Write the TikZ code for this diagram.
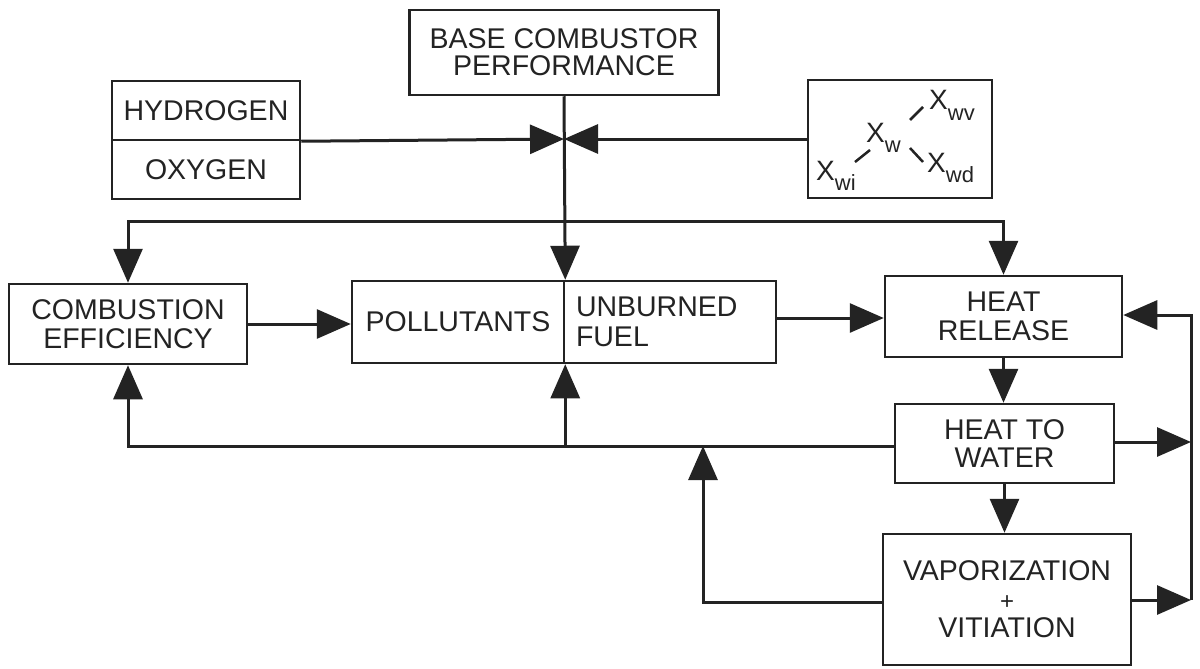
\documentclass[tikz,border=0pt]{standalone}
\usepackage{fontspec}
\setmainfont{Liberation Sans}
\usetikzlibrary{arrows.meta}
\definecolor{ink}{RGB}{35,35,35}
\newcommand{\Xs}[1]{{\fontsize{28}{28}\selectfont X}\raisebox{-10pt}{\fontsize{22}{22}\selectfont #1}}
\begin{document}
\begin{tikzpicture}[x=1pt,y=-1pt,
  box/.style={draw=ink, line width=2.5pt, inner sep=0pt, align=center,
    font=\fontsize{28.5}{28.5}\selectfont, text=ink},
  conn/.style={draw=ink, line width=3pt},
  xlab/.style={anchor=base west, inner sep=0pt, text=ink},
  dashln/.style={draw=ink, line width=2.5pt},
  tri/.tip={Triangle[length=34pt,width=29pt]}]
\useasboundingbox (0,0) rectangle (1200,669);
\fill[white] (0,0) rectangle (1200,669);

% boxes
\node[box, minimum width=309pt, minimum height=85pt, font=\fontsize{28.5}{27}\selectfont] (bcp) at (564,52.5) {BASE COMBUSTOR\\PERFORMANCE};
\node[box, minimum width=188pt, minimum height=59pt] (hyd) at (206,110.5) {HYDROGEN};
\node[box, minimum width=188pt, minimum height=59pt] (oxy) at (206,169.5) {OXYGEN};
\node[box, minimum width=184pt, minimum height=118pt] (xbox) at (900,139) {};
\node[box, minimum width=238pt, minimum height=80pt, font=\fontsize{28.5}{29}\selectfont] (ce) at (128,324) {COMBUSTION\\EFFICIENCY};
\node[box, minimum width=212pt, minimum height=82pt] (pol) at (458,322) {POLLUTANTS};
\node[box, minimum width=212pt, minimum height=82pt, text width=188pt, align=left, inner xsep=12pt, font=\fontsize{28.5}{30}\selectfont] (unb) at (670,322) {UNBURNED\\FUEL};
\node[box, minimum width=237pt, minimum height=81pt] (hr) at (1003.5,316.5) {HEAT\\RELEASE};
\node[box, minimum width=219pt, minimum height=79pt] (htw) at (1004.5,443.5) {HEAT TO\\WATER};
\node[box, minimum width=248pt, minimum height=131pt] (vap) at (1007,599.5) {VAPORIZATION\\{\fontsize{24}{24}\selectfont +}\\VITIATION};

% X labels
\node[xlab] (xw) at (866,142) {\Xs{w}};
\node[xlab] (xwv) at (929,110) {\Xs{wv}};
\node[xlab] (xwd) at (927,172) {\Xs{wd}};
\node[xlab] (xwi) at (816,180) {\Xs{wi}};
\draw[dashln] (855,162) -- (870,150);
\draw[dashln] (910,120) -- (923,107);
\draw[dashln] (910,148) -- (923,162);

% connectors
\coordinate (jn) at (564,139);
\draw[conn,-tri] (hyd.south east) -- (jn);
\draw[conn,-tri] (xbox.west) -- (jn);
\draw[conn,-tri] (bcp.south) -- (pol.north east);

\coordinate (bus) at (0,221);
\draw[conn,tri-tri] (ce.north) -- (ce.north |- bus) -- (hr.north |- bus) -- (hr.north);

\draw[conn,-tri] (ce.east) -- (ce.east -| pol.west);
\coordinate (a2) at (0,318);
\draw[conn,-tri] (unb.east |- a2) -- (hr.west |- a2);
\draw[conn,-tri] (hr.south) -- (hr.south |- htw.north);
\draw[conn,-tri] (htw.south) -- (htw.south |- vap.north);

\coordinate (fb) at (0,446);
\draw[conn,-tri] (htw.west |- fb) -- (ce.south |- fb) -- (ce.south);
\draw[conn,-tri] (pol.south east |- fb) -- (pol.south east);
\coordinate (fb2) at (703,602);
\draw[conn,-tri] (vap.west |- fb2) -- (fb2) -- (fb2 |- fb);

\coordinate (rx) at (1191,0);
\coordinate (hy) at (0,442);
\coordinate (vy) at (0,600);
\coordinate (ry) at (0,315);
\draw[conn,-tri] (htw.east |- hy) -- (rx |- hy);
\draw[conn,-tri] (vap.east |- vy) -- (rx |- vy);
\draw[conn,-tri] (rx |- vy) -- (rx |- ry) -- (hr.east |- ry);
\end{tikzpicture}
\end{document}
